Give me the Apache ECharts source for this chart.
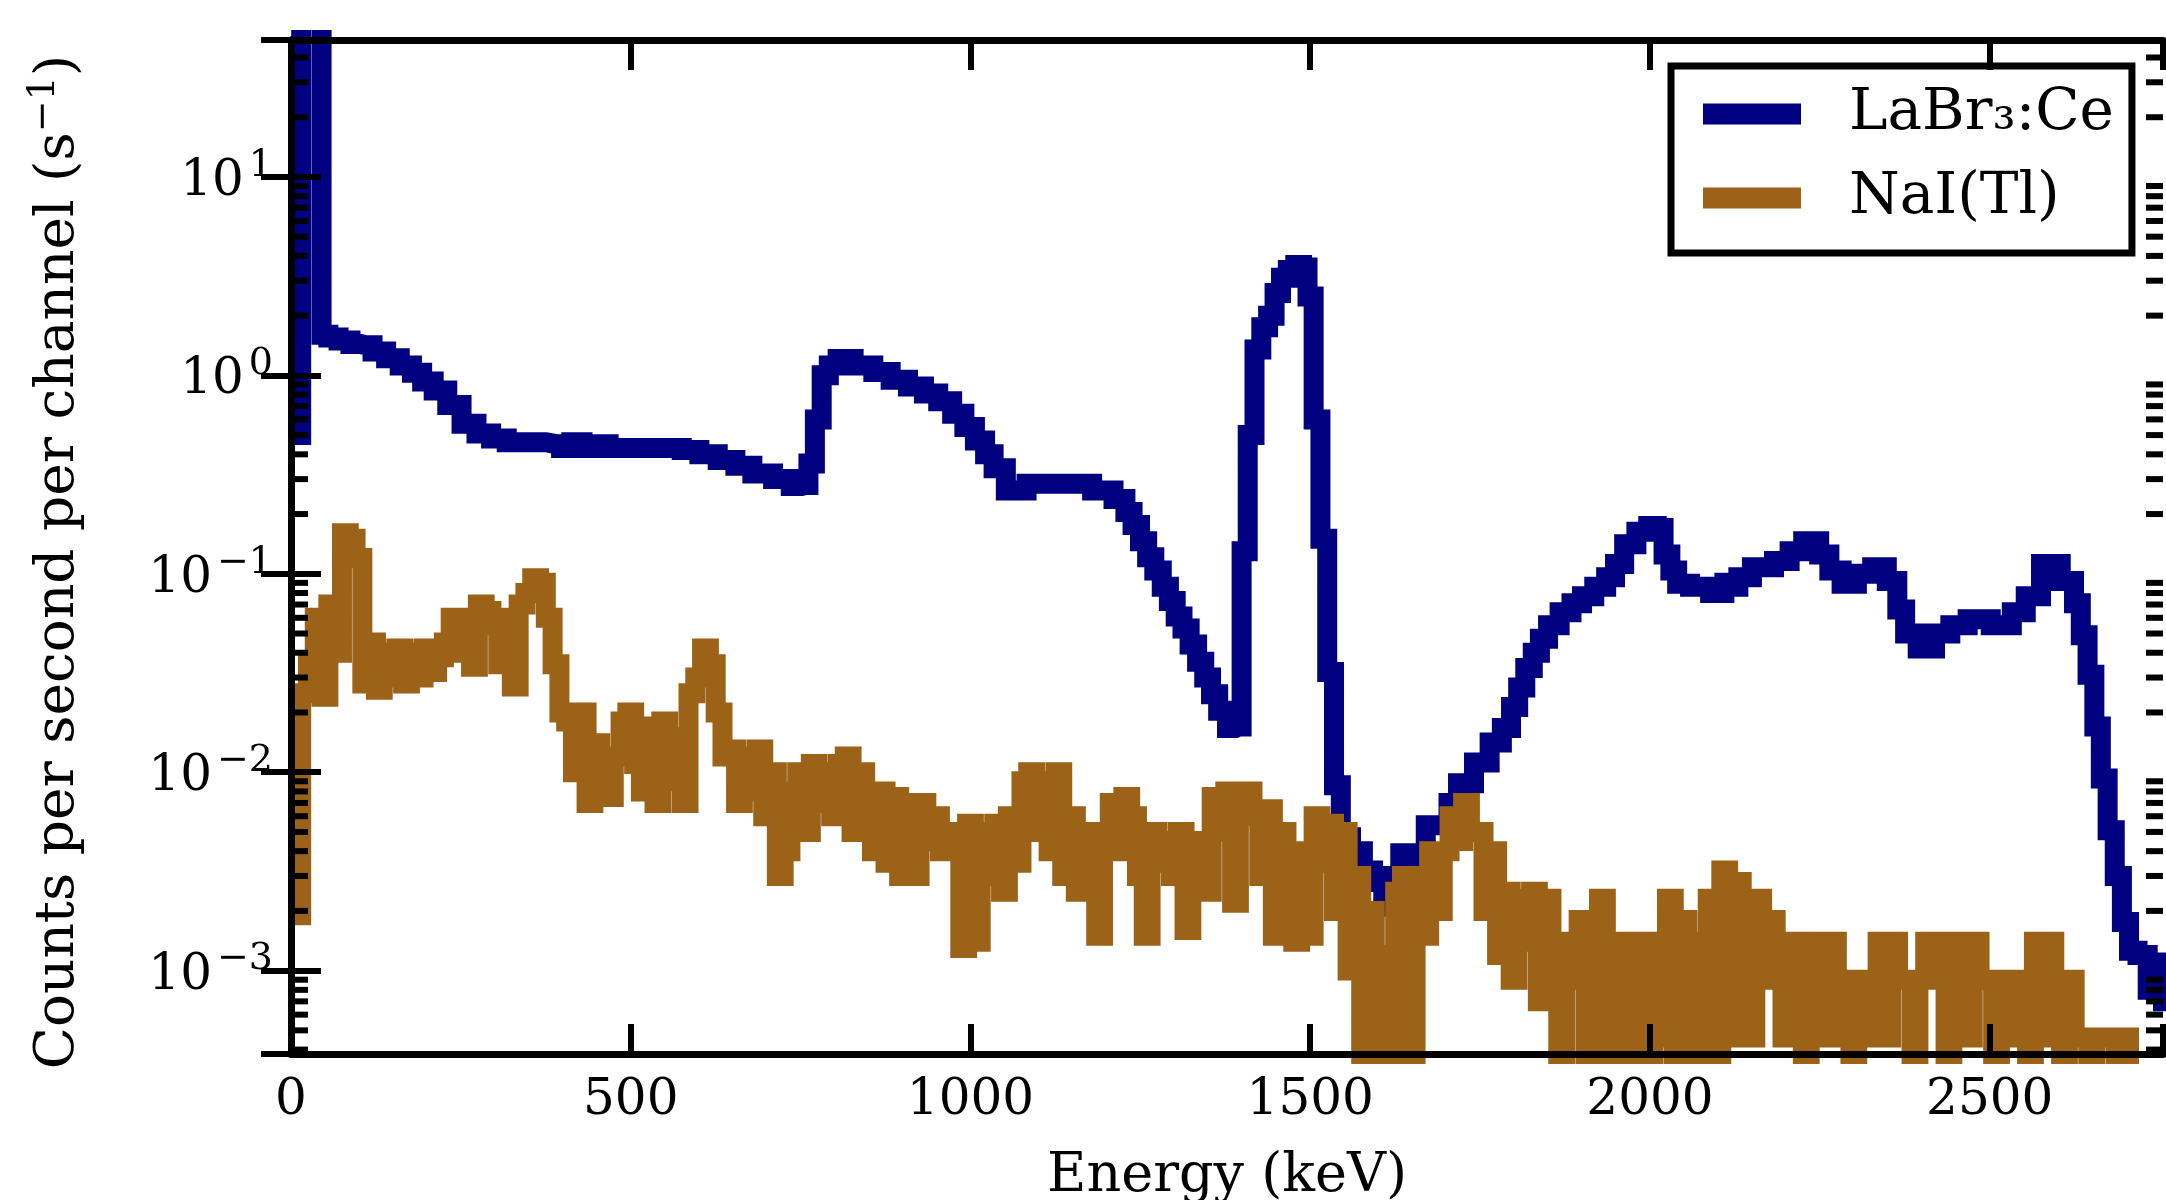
<!DOCTYPE html>
<html>
<head>
<meta charset="utf-8">
<title>LaBr3:Ce vs NaI(Tl) spectrum</title>
<script src="https://cdn.jsdelivr.net/npm/echarts@6.0.0/dist/echarts.min.js"></script>
<style>
  html, body { margin: 0; padding: 0; background: #fff; }
  #chart { width: 2166px; height: 1200px; }
</style>
</head>
<body>
<div id="chart"></div>
<script>
// axis ranges
const X_MAX = 2755;
const Y_MIN = 3.8e-4;
const Y_MAX = 49;

const LA_NAME = 'LaBr\u2083:Ce';
const NAI_NAME = 'NaI(Tl)';

// LaBr3:Ce spectrum (keV, counts/s/channel)
const laEnergy = [
  0, 10, 20, 30, 40, 50, 60, 80, 95, 110,
  130, 150, 170, 186, 200, 220, 240, 262, 284, 305,
  330, 360, 390, 405, 420, 438, 455, 480, 520, 560,
  590, 612, 644, 664, 694, 725, 746, 757, 766, 776,
  786, 797, 812, 844, 870, 895, 921, 942, 963, 983,
  999, 1014, 1029, 1039, 1065, 1100, 1130, 1160, 1198, 1223,
  1233, 1244, 1255, 1265, 1276, 1287, 1297, 1307, 1317, 1328,
  1339, 1349, 1359, 1370, 1385, 1395, 1403, 1413, 1423, 1433,
  1443, 1452, 1462, 1472, 1484, 1492, 1500, 1510, 1520, 1530,
  1540, 1550, 1570, 1585, 1600, 1615, 1625, 1640, 1660, 1680,
  1700, 1707, 1728, 1754, 1774, 1790, 1801, 1811, 1822, 1833,
  1843, 1857, 1877, 1892, 1908, 1928, 1943, 1954, 1970, 1990,
  2005, 2015, 2025, 2035, 2045, 2073, 2104, 2115, 2125, 2135,
  2165, 2200, 2211, 2240, 2258, 2270, 2294, 2315, 2339, 2358,
  2370, 2381, 2407, 2432, 2452, 2483, 2520, 2545, 2561, 2590,
  2619, 2629, 2639, 2649, 2659, 2668, 2679, 2689, 2700, 2710,
  2725, 2740, 2750, 2760
];
const laRate = [
  0.5, 0.5, 200, 200, 200, 1.6, 1.55, 1.5, 1.44, 1.42,
  1.32, 1.22, 1.12, 1.03, 0.93, 0.84, 0.71, 0.57, 0.51, 0.48,
  0.46, 0.46, 0.45, 0.43, 0.46, 0.43, 0.45, 0.43, 0.43, 0.43,
  0.42, 0.40, 0.375, 0.35, 0.32, 0.30, 0.277, 0.28, 0.36, 0.6,
  1.0, 1.12, 1.21, 1.12, 1.04, 0.95, 0.88, 0.81, 0.74, 0.64,
  0.55, 0.47, 0.40, 0.34, 0.263, 0.284, 0.284, 0.284, 0.263, 0.238,
  0.205, 0.176, 0.146, 0.121, 0.104, 0.086, 0.073, 0.061, 0.053, 0.044,
  0.036, 0.030, 0.0247, 0.0204, 0.0167, 0.017, 0.13, 0.5, 1.35, 1.75,
  2.0, 2.6, 3.1, 3.4, 3.6, 3.5, 2.5, 0.6, 0.15, 0.032,
  0.0086, 0.0047, 0.004, 0.0032, 0.0028, 0.0021, 0.003, 0.0039, 0.0036, 0.0054,
  0.0054, 0.007, 0.0088, 0.0112, 0.0141, 0.0167, 0.0213, 0.0267, 0.0335, 0.04,
  0.047, 0.055, 0.064, 0.071, 0.077, 0.086, 0.096, 0.112, 0.141, 0.163,
  0.174, 0.17, 0.125, 0.104, 0.089, 0.086, 0.08, 0.09, 0.086, 0.096,
  0.108, 0.116, 0.13, 0.146, 0.125, 0.104, 0.089, 0.1, 0.108, 0.092,
  0.066, 0.05, 0.042, 0.05, 0.055, 0.059, 0.055, 0.064, 0.077, 0.112,
  0.092, 0.071, 0.049, 0.031, 0.017, 0.0093, 0.0051, 0.003, 0.00176, 0.00126,
  0.0012, 0.0008, 0.0011, 0.0007
];

// NaI(Tl) spectrum, one value per 10 keV channel (1e-4 = empty channel)
const naiEnergy = [
  0, 10, 20, 30, 40, 50, 60, 70, 80, 90,
  100, 110, 120, 130, 140, 150, 160, 170, 180, 190,
  200, 210, 220, 230, 240, 250, 260, 270, 280, 290,
  300, 310, 320, 330, 340, 350, 360, 370, 380, 390,
  400, 410, 420, 430, 440, 450, 460, 470, 480, 490,
  500, 510, 520, 530, 540, 550, 560, 570, 580, 590,
  600, 610, 620, 630, 640, 650, 660, 670, 680, 690,
  700, 710, 720, 730, 740, 750, 760, 770, 780, 790,
  800, 810, 820, 830, 840, 850, 860, 870, 880, 890,
  900, 910, 920, 930, 940, 950, 960, 970, 980, 990,
  1000, 1010, 1020, 1030, 1040, 1050, 1060, 1070, 1080, 1090,
  1100, 1110, 1120, 1130, 1140, 1150, 1160, 1170, 1180, 1190,
  1200, 1210, 1220, 1230, 1240, 1250, 1260, 1270, 1280, 1290,
  1300, 1310, 1320, 1330, 1340, 1350, 1360, 1370, 1380, 1390,
  1400, 1410, 1420, 1430, 1440, 1450, 1460, 1470, 1480, 1490,
  1500, 1510, 1520, 1530, 1540, 1550, 1560, 1570, 1580, 1590,
  1600, 1610, 1620, 1630, 1640, 1650, 1660, 1670, 1680, 1690,
  1700, 1710, 1720, 1730, 1740, 1750, 1760, 1770, 1780, 1790,
  1800, 1810, 1820, 1830, 1840, 1850, 1860, 1870, 1880, 1890,
  1900, 1910, 1920, 1930, 1940, 1950, 1960, 1970, 1980, 1990,
  2000, 2010, 2020, 2030, 2040, 2050, 2060, 2070, 2080, 2090,
  2100, 2110, 2120, 2130, 2140, 2150, 2160, 2170, 2180, 2190,
  2200, 2210, 2220, 2230, 2240, 2250, 2260, 2270, 2280, 2290,
  2300, 2310, 2320, 2330, 2340, 2350, 2360, 2370, 2380, 2390,
  2400, 2410, 2420, 2430, 2440, 2450, 2460, 2470, 2480, 2490,
  2500, 2510, 2520, 2530, 2540, 2550, 2560, 2570, 2580, 2590,
  2600, 2610, 2620, 2630, 2640, 2650, 2660, 2670, 2680, 2690,
  2700, 2710, 2720, 2730, 2740, 2750
];
const naiRate = [
  0.0019, 0.0019, 0.025, 0.035, 0.06, 0.024, 0.07, 0.04, 0.16, 0.15,
  0.12, 0.028, 0.045, 0.026, 0.04, 0.03, 0.042, 0.028, 0.04, 0.03,
  0.042, 0.032, 0.038, 0.045, 0.06, 0.04, 0.06, 0.034, 0.07, 0.065,
  0.055, 0.035, 0.06, 0.027, 0.07, 0.08, 0.095, 0.09, 0.06, 0.035,
  0.02, 0.018, 0.01, 0.02, 0.007, 0.014, 0.01, 0.0075, 0.012, 0.018,
  0.02, 0.011, 0.008, 0.017, 0.007, 0.018, 0.009, 0.015, 0.007, 0.025,
  0.03, 0.042, 0.035, 0.02, 0.012, 0.013, 0.007, 0.012, 0.008, 0.013,
  0.006, 0.01, 0.003, 0.004, 0.008, 0.01, 0.005, 0.011, 0.007, 0.01,
  0.006, 0.011, 0.012, 0.005, 0.01, 0.008, 0.004, 0.008, 0.0035, 0.0075,
  0.003, 0.007, 0.003, 0.007, 0.0045, 0.006, 0.004, 0.005, 0.0045, 0.0013,
  0.0055, 0.0014, 0.005, 0.003, 0.0055, 0.0025, 0.006, 0.0035, 0.009, 0.01,
  0.005, 0.009, 0.004, 0.01, 0.003, 0.006, 0.0025, 0.005, 0.004, 0.0015,
  0.005, 0.007, 0.004, 0.0075, 0.006, 0.003, 0.0015, 0.005, 0.0035, 0.0045,
  0.003, 0.005, 0.0016, 0.003, 0.0045, 0.0025, 0.0075, 0.005, 0.008, 0.0022,
  0.006, 0.008, 0.006, 0.003, 0.0065, 0.0015, 0.005, 0.0022, 0.0014, 0.004,
  0.0015, 0.006, 0.0035, 0.0055, 0.002, 0.005, 0.001, 0.003, 0.0001, 0.002,
  0.0001, 0.0012, 0.0001, 0.0025, 0.003, 0.0001, 0.003, 0.0015, 0.004, 0.002,
  0.004, 0.006, 0.0045, 0.007, 0.005, 0.005, 0.002, 0.004, 0.0012, 0.0025,
  0.0009, 0.0023, 0.0014, 0.0025, 0.0007, 0.0023, 0.0014, 0.0001, 0.0014, 0.0009,
  0.0018, 0.0001, 0.0014, 0.0023, 0.0001, 0.0009, 0.0014, 0.0001, 0.0014, 0.0009,
  0.0001, 0.0014, 0.00046, 0.0023, 0.0001, 0.0018, 0.0014, 0.0001, 0.0009, 0.0023,
  0.0001, 0.0032, 0.00046, 0.0028, 0.0014, 0.00046, 0.0023, 0.0009, 0.0018, 0.0014,
  0.00046, 0.0014, 0.0009, 0.0001, 0.0014, 0.0009, 0.00046, 0.0014, 0.00046, 0.0009,
  0.0001, 0.0009, 0.00046, 0.0009, 0.0014, 0.00046, 0.0014, 0.0009, 0.0009, 0.0001,
  0.0009, 0.0014, 0.0009, 0.0014, 0.0001, 0.0007, 0.0014, 0.00046, 0.0014, 0.0009,
  0.0009, 0.0001, 0.0009, 0.00046, 0.0009, 0.00046, 0.0001, 0.0014, 0.00046, 0.0014,
  0.0009, 0.0001, 0.0009, 0.00046, 0.00046, 0.0001, 0.00046, 0.00046, 0.00046, 0.0001,
  0.00046, 0.0001, 0.0001, 0.0001, 0.0001, 0.0001
];

// log-axis minor tick positions
const minorTickValues = [
  4e-4, 5e-4, 6e-4, 7e-4, 8e-4, 9e-4,
  2e-3, 3e-3, 4e-3, 5e-3, 6e-3, 7e-3, 8e-3, 9e-3,
  2e-2, 3e-2, 4e-2, 5e-2, 6e-2, 7e-2, 8e-2, 9e-2,
  0.2, 0.3, 0.4, 0.5, 0.6, 0.7, 0.8, 0.9,
  2, 3, 4, 5, 6, 7, 8, 9,
  20, 30, 40
];

const FONT = '"DejaVu Serif", serif';
const LA_COLOR = '#000080';
const NAI_COLOR = '#9c6318';

const laData = laEnergy.map((e, i) => [e, laRate[i]]);
const naiData = naiEnergy.map((e, i) => [e, naiRate[i]]);

const frameLine = { show: true, lineStyle: { color: '#000', width: 7 } };
const majorTick = { show: true, inside: true, length: 30, lineStyle: { color: '#000', width: 6 } };

const powerLabel = (v) => {
  const lg = Math.log10(v);
  const e = Math.round(lg);
  if (Math.abs(lg - e) > 1e-6) return '';
  return '{b|10}{s|' + (e < 0 ? '\u2212' + (-e) : e) + '}';
};

const renderMinorTick = (params, api) => {
  const v = api.value(1);
  const left = api.coord([0, v]);
  const right = api.coord([X_MAX, v]);
  const style = { stroke: '#000', lineWidth: 6 };
  return {
    type: 'group',
    children: [
      { type: 'line', shape: { x1: left[0], y1: left[1], x2: left[0] + 17, y2: left[1] }, style },
      { type: 'line', shape: { x1: right[0] - 17, y1: right[1], x2: right[0], y2: right[1] }, style },
    ],
  };
};

const chart = echarts.init(document.getElementById('chart'));

const option = {
  animation: false,
  backgroundColor: '#fff',
  grid: { left: 291, right: 3, top: 40, bottom: 146, containLabel: false, outerBoundsMode: 'none' },
  legend: {
    data: [LA_NAME, NAI_NAME],
    orient: 'vertical',
    left: 1671,
    top: 66,
    padding: [10, 18, 17, 32],
    itemWidth: 98,
    itemHeight: 21,
    itemGap: 8,
    icon: 'rect',
    itemStyle: { borderWidth: 0 },
    borderColor: '#000',
    borderWidth: 7,
    borderRadius: 0,
    backgroundColor: '#fff',
    textStyle: {
      fontFamily: FONT,
      fontSize: 58,
      lineHeight: 64,
      color: '#000',
      padding: [0, 0, 12, 43],
    },
  },
  xAxis: [
    {
      type: 'value',
      position: 'bottom',
      min: 0,
      max: X_MAX,
      interval: 500,
      axisLine: frameLine,
      axisTick: majorTick,
      splitLine: { show: false },
      axisLabel: {
        fontFamily: FONT,
        fontSize: 50,
        color: '#000',
        margin: 22,
        formatter: (v) => (v % 500 === 0 ? String(v) : ''),
      },
      name: 'Energy (keV)',
      nameLocation: 'middle',
      nameGap: 96,
      nameTextStyle: { fontFamily: FONT, fontSize: 54, color: '#000' },
      z: 5,
    },
    {
      type: 'value',
      position: 'top',
      min: 0,
      max: X_MAX,
      interval: 500,
      axisLine: frameLine,
      axisTick: majorTick,
      axisLabel: { show: false },
      splitLine: { show: false },
      z: 5,
    },
  ],
  yAxis: [
    {
      type: 'log',
      logBase: 10,
      min: Y_MIN,
      max: Y_MAX,
      position: 'left',
      axisLine: frameLine,
      axisTick: majorTick,
      splitLine: { show: false },
      axisLabel: {
        margin: 18,
        formatter: powerLabel,
        rich: {
          b: { fontFamily: FONT, fontSize: 50, color: '#000', verticalAlign: 'bottom' },
          s: { fontFamily: FONT, fontSize: 38, color: '#000', verticalAlign: 'bottom', padding: [0, 0, 22, 5] },
        },
      },
      name: '{a|Counts per second per channel (s}{s|\u22121}{e|)}',
      nameLocation: 'middle',
      nameRotate: 90,
      nameGap: 205,
      nameTextStyle: {
        rich: {
          a: { fontFamily: FONT, fontSize: 55, color: '#000', verticalAlign: 'bottom' },
          s: { fontFamily: FONT, fontSize: 38, color: '#000', verticalAlign: 'bottom', padding: [0, 0, 23, 0] },
          e: { fontFamily: FONT, fontSize: 55, color: '#000', verticalAlign: 'bottom', padding: [0, 30, 0, 0] },
        },
      },
      z: 5,
    },
    {
      type: 'log',
      logBase: 10,
      min: Y_MIN,
      max: Y_MAX,
      position: 'right',
      axisLine: frameLine,
      axisTick: majorTick,
      axisLabel: { show: false },
      splitLine: { show: false },
      z: 5,
    },
  ],
  series: [
    {
      name: LA_NAME,
      type: 'line',
      data: laData,
      step: 'middle',
      showSymbol: false,
      color: LA_COLOR,
      lineStyle: { width: 20, color: LA_COLOR, join: 'miter', cap: 'butt' },
      clip: true,
      z: 2,
    },
    {
      name: NAI_NAME,
      type: 'line',
      data: naiData,
      step: 'middle',
      showSymbol: false,
      color: NAI_COLOR,
      lineStyle: { width: 20, color: NAI_COLOR, join: 'miter', cap: 'butt' },
      clip: true,
      z: 3,
    },
    {
      name: 'minor ticks',
      type: 'custom',
      data: minorTickValues.map((v) => [0, v]),
      renderItem: renderMinorTick,
      clip: false,
      silent: true,
      z: 6,
    },
  ],
};

chart.setOption(option);
window.addEventListener('resize', () => chart.resize());
</script>
</body>
</html>
